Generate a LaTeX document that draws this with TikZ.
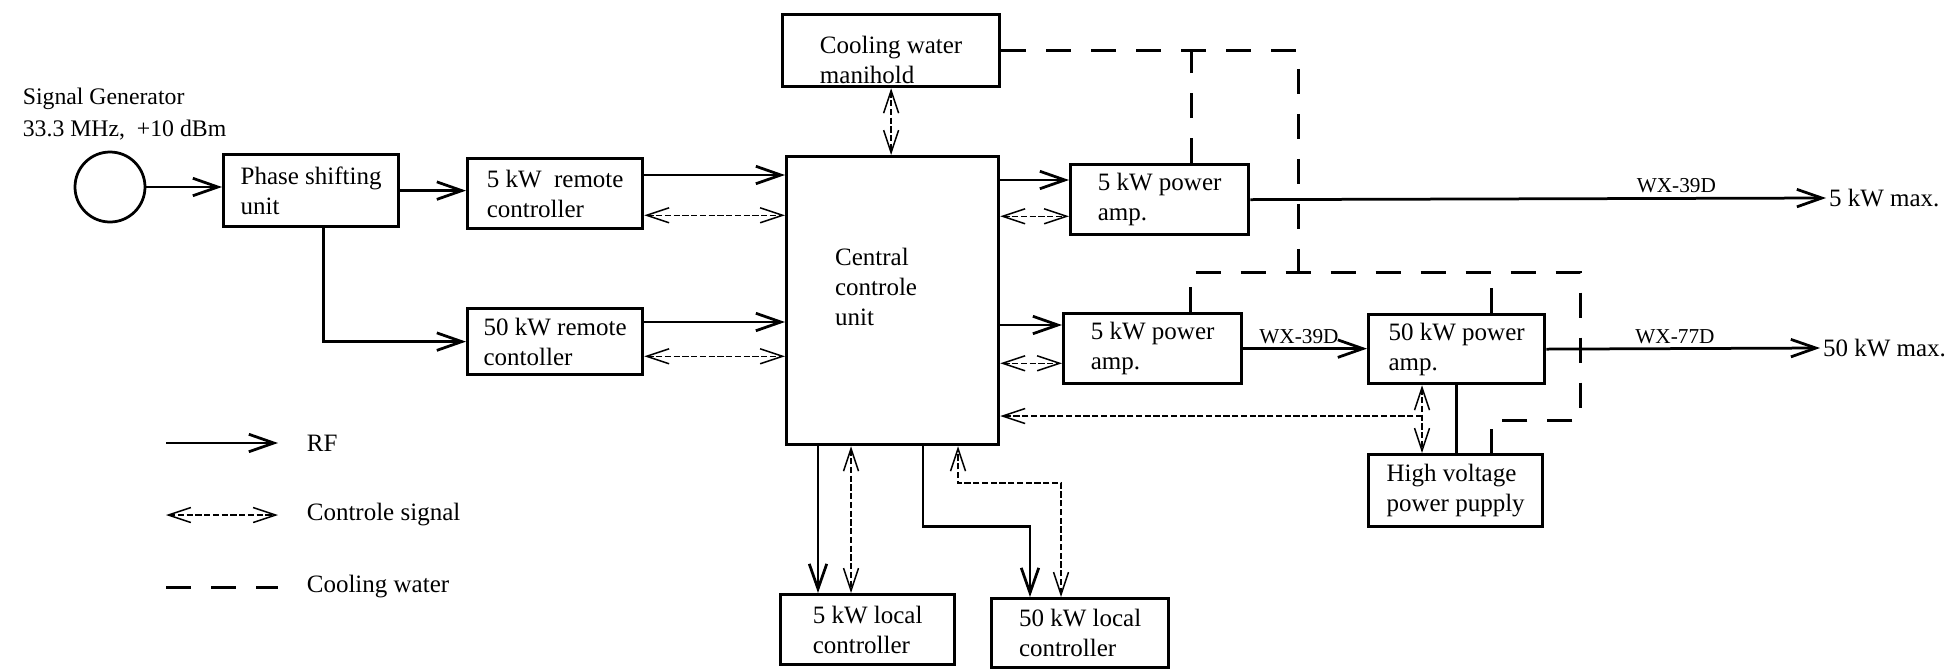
\documentclass[tikz,border=0pt]{standalone}
\usepackage{fontspec}
\setmainfont{Liberation Serif}
\usetikzlibrary{arrows.meta}

\begin{document}
\begin{tikzpicture}[x=0.4pt,y=-0.4pt,font=\fontsize{10}{12}\selectfont,
  unitbox/.style 2 args={draw,line width=1.3pt,anchor=north west,align=left,
    minimum width=#1,minimum height=#2,inner sep=2pt},
  rf/.style={line width=1.1pt,->,>={Straight Barb[length=10pt,width=7pt]}},
  rfline/.style={line width=1.1pt},
  ctl/.style={line width=0.6pt,dash pattern=on 2.5pt off 1pt,<->,
    >={Straight Barb[length=9pt,width=6pt]}},
  ctlin/.style={line width=0.6pt,dash pattern=on 2.5pt off 1pt,->,
    >={Straight Barb[length=9pt,width=6pt]}},
  cool/.style={line width=1.2pt,dash pattern=on 10pt off 8pt},
  wx/.style={font=\fontsize{8.5}{10}\selectfont,inner sep=1.5pt}]
\useasboundingbox (0,0) rectangle (1959,668);
% Source: generator and phase shifter
\node[circle,draw,line width=1.1pt,minimum size=28pt,inner sep=0pt] (sg) at (110,187) {};
\node[anchor=west,align=left,font=\fontsize{9.5}{12.8}\selectfont] (sgtxt) at (14,114)
  {Signal Generator\\33.3 MHz,\ \ +10 dBm};
\node[unitbox={70pt}{28.8pt}] (psu) at (222,153) {Phase shifting\\unit};
\node[unitbox={70pt}{28pt}] (rc5) at (466,157) {5 kW\ \ remote\\controller};
\node[unitbox={70pt}{26.4pt}] (rc50) at (466,307) {50 kW remote\\contoller};
% Central part
\node[unitbox={86.8pt}{28.8pt},inner ysep=0pt,text height=26pt] (cwm) at (781,13)
  {Cooling water\\manihold};
\node[unitbox={84.8pt}{115.2pt},text width=46pt,text depth=34.8pt] (ccu) at (785,155)
  {Central\\controle\\unit};
\node[unitbox={69.6pt}{28pt}] (lc5) at (779,593) {5 kW local\\controller};
\node[unitbox={70.8pt}{27.6pt}] (lc50) at (990,597) {50 kW local\\controller};
% Amplifiers
\node[unitbox={71.2pt}{28pt}] (pa5a) at (1069,163) {5 kW power\\amp.};
\node[unitbox={71.2pt}{28pt}] (pa5b) at (1062,312) {5 kW power\\amp.};
\node[unitbox={70.4pt}{27.6pt}] (pa50) at (1367,313) {50 kW power\\amp.};
\node[unitbox={69.6pt}{28.8pt}] (hvps) at (1367,453) {High voltage\\power pupply};
\node[anchor=west,inner sep=1pt] (out5) at (1826,198) {5 kW max.};
\node[anchor=west,inner sep=1pt] (out50) at (1820,348) {50 kW max.};

% RF into the remote controllers
\draw[rf] (sg.east) -- (sg.east -| psu.west);
\draw[rf] (psu.east) -- (psu.east -| rc5.west);
\draw[rf] ([xshift=5pt]psu.south) |- (rc50.west);
\foreach \bx/\rs/\cs in {rc5/7.2/6,rc50/6/8}{
  \coordinate (rf\bx) at ([yshift=-\rs pt]\bx.north east);
  \coordinate (ct\bx) at ([yshift=\cs pt]\bx.south east);
  \draw[rf] (rf\bx) -- (rf\bx -| ccu.west);
  \draw[ctl] (ct\bx) -- (ct\bx -| ccu.west);
}
\draw[ctl] (cwm.south) -- (cwm.south |- ccu.north);
% Central unit -> power amps
\foreach \bx/\rs/\cs in {pa5a/6.8/8,pa5b/5.2/8.8}{
  \coordinate (rf\bx) at ([yshift=-\rs pt]\bx.north west);
  \coordinate (ct\bx) at ([yshift=\cs pt]\bx.south west);
  \draw[rf] (rf\bx -| ccu.east) -- (rf\bx);
  \draw[ctl] (ct\bx -| ccu.east) -- (ct\bx);
}
\draw[rf] (pa5a.east) -- (out5.west) node[wx,above,pos=0.74] {WX-39D};
\draw[rf] (pa5b.east) -- (pa5b.east -| pa50.west) node[wx,above,pos=0.45] {WX-39D};
\draw[rf] (pa50.east) -- (out50.west) node[wx,above,pos=0.47] {WX-77D};
% High voltage supply
\coordinate (p1) at ([xshift=22pt]pa50.south west);
\draw[ctl] (p1) -- (p1 |- hvps.north);
\draw[rfline] (pa50.south) -- (pa50.south |- hvps.north);
\coordinate (cj) at (1422,416);
\draw[ctlin] (cj) -- (cj -| ccu.east);
% Central unit -> local controllers
\coordinate (q1) at ([xshift=13.2pt]ccu.south west);
\coordinate (q2) at ([xshift=26.4pt]ccu.south west);
\draw[rf] (q1) -- (q1 |- lc5.north);
\draw[ctl] (q2) -- (q2 |- lc5.north);
\coordinate (q3) at ([xshift=55.2pt]ccu.south west);
\coordinate (q4) at ([xshift=16pt]lc50.north west);
\draw[rf] (q3) -- ++(0,80) -| (q4);
\coordinate (q5) at ([xshift=28.4pt]lc50.north west);
\coordinate (q6) at ([xshift=69.2pt]ccu.south west);
\draw[ctl] (q5) -- ++(0,-114) -| (q6);
% Cooling water
\coordinate (w2) at (1298,272);
\coordinate (w3) at (1580,272);
\coordinate (w4) at (1580,420);
\coordinate (t1) at ([xshift=12.8pt]pa5a.north);
\coordinate (t2) at ([xshift=15.2pt]pa5b.north);
\coordinate (t3) at ([xshift=14pt]pa50.north);
\coordinate (t4) at ([xshift=14.4pt]hvps.north);
\draw[cool] (cwm.east) -| (w2);
\draw[cool] (t1) -- (t1 |- cwm.east);
\draw[cool] (t2) |- (w3) -- (w4) -| (t4);
\draw[cool] (t3) -- (t3 |- w3);
% Legend
\foreach \y/\st/\tx in {443/rf/RF,515/ctl/Controle signal,587/cool/Cooling water}{
  \coordinate (lg\y) at (166,\y);
  \node[anchor=west] (lt\y) at (298,\y) {\tx};
  \draw[\st] (lg\y) -- ([xshift=-8pt]lt\y.west);
}
\end{tikzpicture}
\end{document}
